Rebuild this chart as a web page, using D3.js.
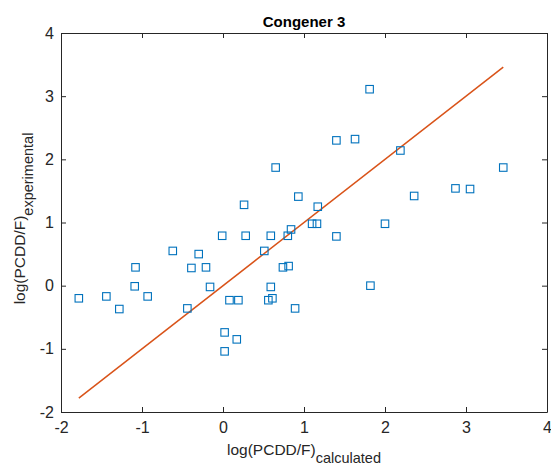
<!DOCTYPE html>
<html>
<head>
<meta charset="utf-8">
<script src="https://cdn.jsdelivr.net/npm/d3@7"></script>
<style>
  body { margin: 0; background: #fff; }
  text { font-family: "Liberation Sans", Arial, sans-serif; }
</style>
</head>
<body>
<div id="chart"></div>
<script>
  const xCalc = [-1.78, -1.44, -1.28, -1.08, -1.09, -0.93, -0.62, -0.30, -0.39, -0.21,
                 -0.44, -0.16, -0.01, 0.02, 0.02, 0.08, 0.19, 0.17, 0.26, 0.28,
                 0.51, 0.59, 0.59, 0.56, 0.61, 0.74, 0.81, 0.80, 0.84, 0.89,
                 0.65, 0.93, 1.10, 1.16, 1.17, 1.40, 2.00, 1.82, 2.36, 1.81,
                 1.40, 1.63, 2.19, 2.87, 3.05, 3.46];
  const yExp = [-0.20, -0.17, -0.37, 0.29, -0.01, -0.17, 0.55, 0.50, 0.28, 0.29,
                -0.36, -0.02, 0.79, -0.74, -1.04, -0.23, -0.23, -0.85, 1.28, 0.79,
                0.55, 0.79, -0.02, -0.23, -0.20, 0.29, 0.31, 0.79, 0.89, -0.36,
                1.87, 1.41, 0.98, 0.98, 1.25, 0.78, 0.98, 0.00, 1.42, 3.11,
                2.30, 2.32, 2.14, 1.54, 1.53, 1.87];
  const fitX = [-1.78, 3.46];
  const fitY = [-1.78, 3.46];
  const xTicks = [-2, -1, 0, 1, 2, 3, 4];
  const yTicks = [-2, -1, 0, 1, 2, 3, 4];

  const width = 551, height = 465;
  const margins = {top: 33, right: 4, bottom: 53, left: 61};

  const svg = d3.select("#chart")
    .append("svg")
      .attr("width", width)
      .attr("height", height);

  const xScale = d3.scaleLinear()
    .domain([-2, 4])
    .range([margins.left, width - margins.right]);

  const yScale = d3.scaleLinear()
    .domain([-2, 4])
    .range([height - margins.bottom, margins.top]);

  // plain hyphen minus, no decimals (like the original)
  const fmt = d => String(d);

  // axes box with inward ticks
  const tickLen = 5;
  const axisStyle = g => {
    g.select(".domain").attr("stroke", "#262626");
    g.selectAll(".tick line").attr("stroke", "#262626");
    g.selectAll(".tick text").attr("fill", "#262626").style("font-size", "16px");
  };

  svg.append("g")
      .attr("transform", `translate(0, ${height - margins.bottom})`)
    .call(d3.axisBottom(xScale).tickValues(xTicks).tickFormat(fmt).tickSizeInner(-tickLen).tickSizeOuter(0).tickPadding(10))
    .call(axisStyle);

  svg.append("g")
      .attr("transform", `translate(0, ${margins.top})`)
    .call(d3.axisTop(xScale).tickValues(xTicks).tickSizeInner(-tickLen).tickSizeOuter(0).tickFormat(""))
    .call(axisStyle);

  svg.append("g")
      .attr("transform", `translate(${margins.left}, 0)`)
    .call(d3.axisLeft(yScale).tickValues(yTicks).tickFormat(fmt).tickSizeInner(-tickLen).tickSizeOuter(0).tickPadding(7))
    .call(axisStyle);

  svg.append("g")
      .attr("transform", `translate(${width - margins.right}, 0)`)
    .call(d3.axisRight(yScale).tickValues(yTicks).tickSizeInner(-tickLen).tickSizeOuter(0).tickFormat(""))
    .call(axisStyle);

  // fitted line
  svg.append("line")
    .attr("x1", xScale(fitX[0]))
    .attr("y1", yScale(fitY[0]))
    .attr("x2", xScale(fitX[1]))
    .attr("y2", yScale(fitY[1]))
    .attr("stroke", "#D95319")
    .attr("stroke-width", 1.5);

  // square markers
  const sz = 7.5;
  svg.append("g")
    .selectAll("rect")
    .data(d3.zip(xCalc, yExp))
    .join("rect")
      .attr("x", d => xScale(d[0]) - sz / 2)
      .attr("y", d => yScale(d[1]) - sz / 2)
      .attr("width", sz)
      .attr("height", sz)
      .attr("fill", "none")
      .attr("stroke", "#0072BD")
      .attr("stroke-width", 1.1);

  // title
  svg.append("text")
    .attr("x", (margins.left + width - margins.right) / 2)
    .attr("y", 27)
    .attr("text-anchor", "middle")
    .style("font-size", "15px")
    .style("font-weight", "bold")
    .attr("fill", "#000")
    .text("Congener 3");

  // x label
  const xl = svg.append("text")
    .attr("x", (margins.left + width - margins.right) / 2)
    .attr("y", 455)
    .attr("text-anchor", "middle")
    .style("font-size", "15.5px")
    .attr("fill", "#262626");
  xl.append("tspan").text("log(PCDD/F)");
  xl.append("tspan").attr("dy", 8).style("font-size", "14.5px").text("calculated");

  // y label
  const yl = svg.append("text")
    .attr("transform", `translate(25, ${(margins.top + height - margins.bottom) / 2 - 4}) rotate(-90)`)
    .attr("text-anchor", "middle")
    .style("font-size", "15.5px")
    .attr("fill", "#262626");
  yl.append("tspan").text("log(PCDD/F)");
  yl.append("tspan").attr("dy", 8).style("font-size", "14.5px").text("experimental");
</script>
</body>
</html>
